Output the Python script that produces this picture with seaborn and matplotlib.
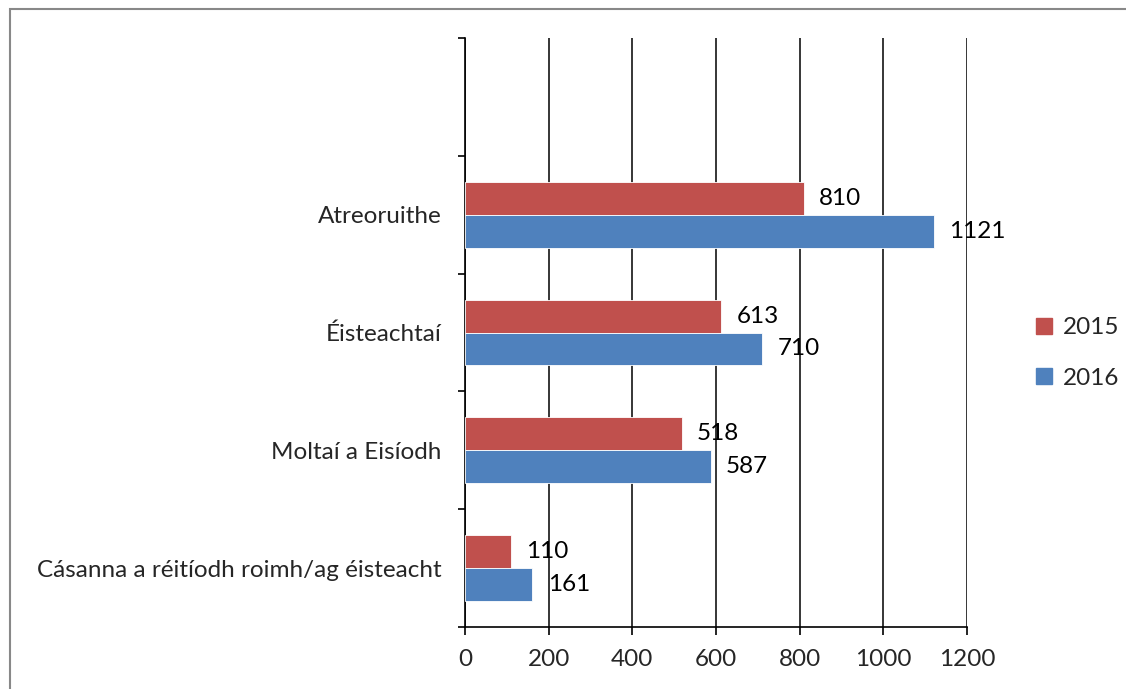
import matplotlib
matplotlib.use("Agg")
import matplotlib.pyplot as plt
import matplotlib.patches as mpatches
import seaborn as sns
import pandas as pd
import numpy as np

categories = ["Atreoruithe", "Éisteachtaí", "Moltaí a Eisíodh", "Cásanna a réitíodh roimh/ag éisteacht"]
years = ["2015", "2016"]
values_2015 = [810, 613, 518, 110]
values_2016 = [1121, 710, 587, 161]
x_ticks = [0, 200, 400, 600, 800, 1000, 1200]
colors = {"2015": "#C0504D", "2016": "#4F81BD"}

sns.set_theme(style="white")
plt.rcParams['font.family'] = ['Lato', 'DejaVu Sans']
FS = 17.5

df = pd.DataFrame({
    "category": categories * 2,
    "year": ["2015"] * len(categories) + ["2016"] * len(categories),
    "value": values_2015 + values_2016,
})

fig = plt.figure(figsize=(11.26, 6.89), dpi=100)
ax = fig.add_axes([465/1126, 1-627/689, (967-465)/1126, (627-38)/689])

order = [" "] + categories
sns.barplot(data=df, y="category", x="value", hue="year", order=order,
            hue_order=years, palette=colors, saturation=1, width=0.56, orient="h",
            ax=ax, legend=False, zorder=3, edgecolor="white", linewidth=0.6)

ax.set_xlim(0, 1200)
ax.set_ylim(4.5, -0.5)
ax.set_xticks(x_ticks)
ax.set_xticklabels([str(t) for t in x_ticks], fontsize=FS)
ax.set_yticks(range(1, 5))
ax.set_yticklabels(categories, fontsize=FS)
ax.set_yticks(np.arange(-0.5, 5, 1), minor=True)
ax.tick_params(axis="y", which="major", length=0, pad=17)
ax.tick_params(axis="y", which="minor", length=5, width=1.2, color="black", left=True)
ax.tick_params(axis="x", which="major", length=6, width=1.2, color="black", pad=10, bottom=True)
ax.set_xlabel("")
ax.set_ylabel("")

ax.grid(axis="x", color="black", linewidth=1.1, zorder=0)
ax.set_axisbelow(True)
for s in ["top", "right"]:
    ax.spines[s].set_visible(False)
for s in ["left", "bottom"]:
    ax.spines[s].set_color("black")
    ax.spines[s].set_linewidth(1.2)

for cont in ax.containers:
    ax.bar_label(cont, labels=[f"{int(v)}" for v in cont.datavalues], padding=11, fontsize=FS, color="black")

handles = [mpatches.Patch(color=colors[y], label=y) for y in years]
fig.legend(handles=handles, loc="center left", bbox_to_anchor=(1036/1126, 1-353/689),
           frameon=False, fontsize=FS, handlelength=0.65, handleheight=0.65,
           handletextpad=0.45, labelspacing=1.2, borderpad=0, borderaxespad=0)

fig.patches.append(mpatches.Rectangle((10/1126, -0.1), 1.2, 1-9/689+0.1, transform=fig.transFigure,
                                      fill=False, edgecolor="#888888", linewidth=1.5))

fig.savefig("out.png", dpi=100)
